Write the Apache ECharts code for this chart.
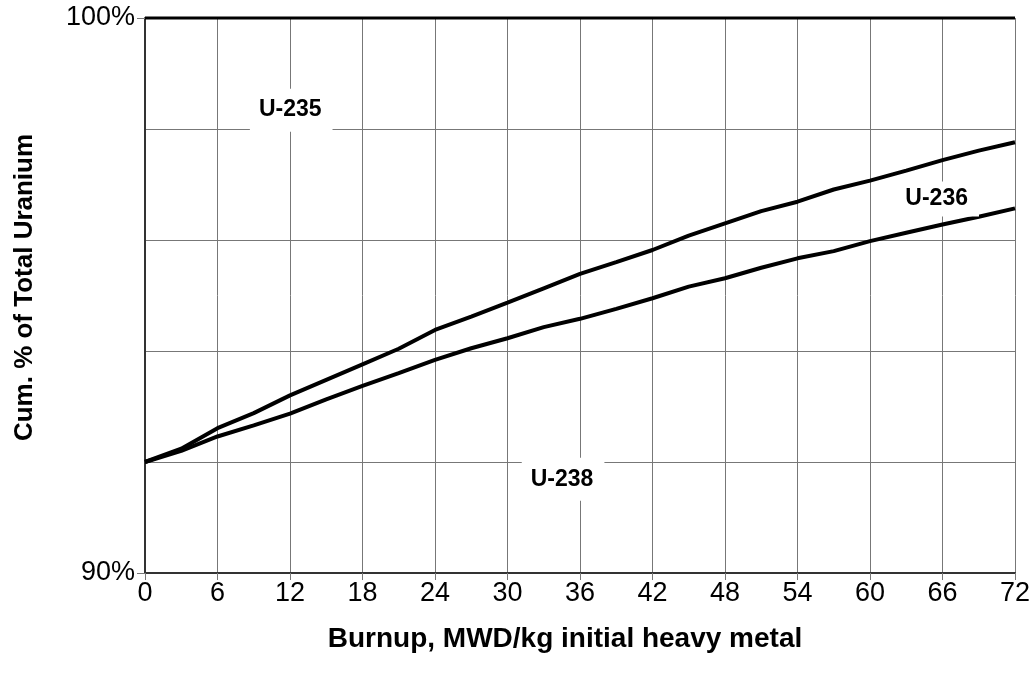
<!DOCTYPE html>
<html>
<head>
<meta charset="utf-8">
<title>Cumulative uranium isotopes vs burnup</title>
<script src="https://cdn.jsdelivr.net/npm/echarts@6/dist/echarts.min.js"></script>
<style>
  html, body { margin: 0; padding: 0; background: #fff; }
  #chart { width: 1034px; height: 681px; }
</style>
</head>
<body>
<div id="chart"></div>
<script>
// Burnup steps, MWD/kg initial heavy metal
const burnup = [0, 3, 6, 9, 12, 15, 18, 21, 24, 27, 30, 33, 36, 39, 42, 45, 48, 51, 54, 57, 60, 63, 66, 69, 72];

// Cumulative % of total uranium: U-238 alone
const cumU238 = [92.00, 92.20, 92.46, 92.66, 92.87, 93.13, 93.37, 93.60, 93.84, 94.05, 94.23, 94.43, 94.58,
                 94.76, 94.95, 95.16, 95.31, 95.50, 95.67, 95.80, 95.98, 96.13, 96.28, 96.42, 96.57];

// Cumulative % of total uranium: U-238 + U-236
const cumU236 = [92.00, 92.24, 92.61, 92.88, 93.20, 93.48, 93.76, 94.04, 94.38, 94.62, 94.87, 95.13, 95.39,
                 95.60, 95.82, 96.08, 96.30, 96.52, 96.69, 96.91, 97.07, 97.25, 97.44, 97.61, 97.76];

// Cumulative total (all isotopes, incl. U-235)
const cumTotal = burnup.map(() => 100);

// Isotope band labels: [burnup, cumulative %, text]
const bandLabels = [
  [12.1, 98.34, 'U-235'],
  [65.6, 96.74, 'U-236'],
  [34.6, 91.69, 'U-238']
];

const yTickLabels = { 90: '90%', 100: '100%' };

const FONT = 'Liberation Sans, Arial, Helvetica, sans-serif';
const zip = (xs, ys) => xs.map((x, i) => [x, ys[i]]);

const chart = echarts.init(document.getElementById('chart'), null, { renderer: 'canvas' });

chart.setOption({
  animation: false,
  backgroundColor: '#ffffff',
  grid: { left: 145, right: 19, top: 18, bottom: 108, containLabel: false, outerBoundsMode: 'none' },
  xAxis: {
    type: 'value',
    min: 0, max: 72, interval: 6,
    name: 'Burnup, MWD/kg initial heavy metal',
    nameLocation: 'middle',
    nameGap: 52,
    nameTextStyle: { fontFamily: FONT, fontWeight: 'bold', fontSize: 28, color: '#000', padding: [0, 30, 0, 0] },
    axisLine: { show: true, onZero: false, lineStyle: { color: '#333', width: 2 } },
    axisTick: { show: true, inside: false, length: 7, lineStyle: { color: '#777', width: 1 } },
    axisLabel: { fontFamily: FONT, fontSize: 27, color: '#000', margin: 7 },
    splitLine: { show: true, lineStyle: { color: '#777', width: 1 } }
  },
  yAxis: {
    type: 'value',
    min: 90, max: 100, interval: 10,
    name: 'Cum. % of Total Uranium',
    nameLocation: 'middle',
    nameGap: 107,
    nameTextStyle: { fontFamily: FONT, fontWeight: 'bold', fontSize: 26, color: '#000', padding: [0, 0, 0, 16] },
    axisLine: { show: true, lineStyle: { color: '#333', width: 2 } },
    axisTick: { show: true, inside: false, length: 8, lineStyle: { color: '#777', width: 1 } },
    axisLabel: {
      fontFamily: FONT, fontSize: 27, color: '#000', margin: 10,
      formatter: v => yTickLabels[v] || ''
    },
    splitLine: { show: true, lineStyle: { color: '#777', width: 1 } },
    minorTick: { show: false, splitNumber: 5 },
    minorSplitLine: { show: true, lineStyle: { color: '#777', width: 1 } }
  },
  series: [
    {
      name: 'U-238',
      type: 'line',
      data: zip(burnup, cumU238),
      symbol: 'none',
      clip: false,
      lineStyle: { color: '#000', width: 4 },
      z: 3
    },
    {
      name: 'U-236',
      type: 'line',
      data: zip(burnup, cumU236),
      symbol: 'none',
      clip: false,
      lineStyle: { color: '#000', width: 4 },
      z: 3
    },
    {
      name: 'U-235',
      type: 'line',
      data: zip(burnup, cumTotal),
      symbol: 'none',
      clip: false,
      lineStyle: { color: '#000', width: 3 },
      z: 3
    },
    {
      name: 'labels',
      type: 'scatter',
      data: bandLabels.map(d => ({
        value: [d[0], d[1]],
        name: d[2],
        // the label sitting between the two curves keeps a tighter box
        label: d[2] === 'U-236' ? { padding: [8, 11, 4, 9] } : undefined
      })),
      symbolSize: 0,
      itemStyle: { opacity: 1 },
      z: 5,
      label: {
        show: true,
        position: 'inside',
        formatter: p => p.name,
        fontFamily: FONT,
        fontWeight: 'bold',
        fontSize: 23,
        color: '#000',
        opacity: 1,
        textBorderWidth: 0,
        backgroundColor: '#fff',
        padding: [9, 11, 11, 9]
      }
    }
  ]
});
</script>
</body>
</html>
